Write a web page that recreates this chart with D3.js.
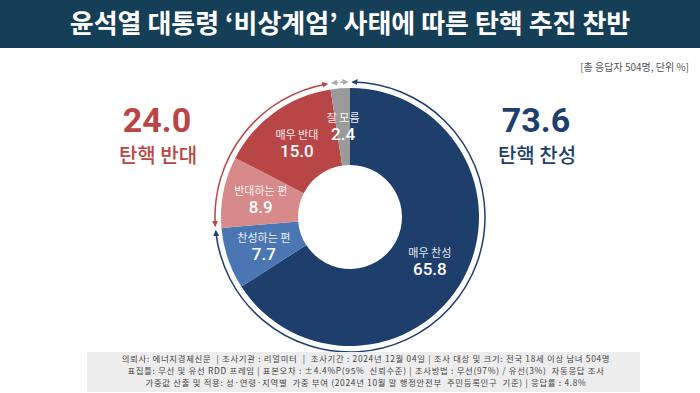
<!DOCTYPE html>
<html>
<head>
<meta charset="utf-8">
<script src="https://cdn.jsdelivr.net/npm/d3@7"></script>
<style>
  body { margin: 0; background: #fff; }
  text { font-family: "Noto Sans CJK KR", "Noto Sans", sans-serif; }
  .num { font-family: Roboto, "Noto Sans CJK KR", sans-serif; }
</style>
</head>
<body>
<div id="chart"></div>
<script>
// survey data
var categories = ["매우 찬성", "찬성하는 편", "반대하는 편", "매우 반대", "잘 모름"];
var values = [65.8, 7.7, 8.9, 15.0, 2.4];
var sliceColors = ["#1e3e6c", "#4a77b4", "#d68a8a", "#b84646", "#9b9b9b"];

// totals shown left / right
var summaryLabels = ["탄핵 반대", "탄핵 찬성"];
var summaryValues = [24.0, 73.6];

var titleText = "윤석열 대통령 ‘비상계엄’ 사태에 따른 탄핵 추진 찬반";
var noteText = "[총 응답자 504명, 단위 %]";
var footerLines = [
  "의뢰사: 에너지경제신문  | 조사기관 : 리얼미터  |  조사기간 : 2024년 12월 04일 | 조사 대상 및 크기: 전국 18세 이상 남녀 504명",
  "표집틀: 무선 및 유선 RDD 프레임 | 표본오차 : ±4.4%P(95%  신뢰수준) | 조사방법 : 무선(97%) / 유선(3%)  자동응답 조사",
  "가중값 산출 및 적용: 성·연령·지역별  가중 부여 (2024년 10월 말 행정안전부  주민등록인구  기준) | 응답률 : 4.8%"
];

var svgWidth = 700;
var svgHeight = 393;

var svg = d3.select("#chart")
  .append("svg")
  .attr("width", svgWidth)
  .attr("height", svgHeight);

// title band
svg.append("rect")
  .attr("width", svgWidth)
  .attr("height", 48)
  .attr("fill", "#153e57");

svg.append("text")
  .attr("x", svgWidth / 2)
  .attr("y", 33)
  .attr("text-anchor", "middle")
  .attr("fill", "#fff")
  .attr("font-size", "26px")
  .attr("font-weight", "bold")
  .text(titleText);

svg.append("text")
  .attr("x", 689)
  .attr("y", 71)
  .attr("text-anchor", "end")
  .attr("fill", "#555")
  .attr("font-size", "10px")
  .text(noteText);

// donut
var cx = 350, cy = 217;
var outerR = 129, innerR = 52, labelR = 91, ringR = 135;

var pie = d3.pie().sort(null).value(d => d);
var arcs = pie(values);

var arc = d3.arc().innerRadius(innerR).outerRadius(outerR);
var labelArc = d3.arc().innerRadius(labelR).outerRadius(labelR);

var donut = svg.append("g")
  .attr("transform", `translate(${cx}, ${cy})`);

donut.selectAll("path.slice")
  .data(arcs)
  .enter()
  .append("path")
  .attr("class", "slice")
  .attr("d", arc)
  .attr("fill", (d, i) => sliceColors[i]);

var labels = donut.selectAll("g.lbl")
  .data(arcs)
  .enter()
  .append("g")
  .attr("class", "lbl")
  .attr("transform", d => `translate(${labelArc.centroid(d)})`);

labels.append("text")
  .attr("y", -4)
  .attr("text-anchor", "middle")
  .attr("fill", "#fff")
  .attr("fill-opacity", 0.92)
  .attr("font-size", "11px")
  .text((d, i) => categories[i]);

labels.append("text")
  .attr("class", "num")
  .attr("y", 14)
  .attr("text-anchor", "middle")
  .attr("fill", "#fff")
  .attr("font-size", "17px")
  .attr("font-weight", 500)
  .text(d => d3.format(".1f")(d.data));

// arrow markers for the outer ring
var defs = svg.append("defs");
[["navy", "#1e3e6c"], ["red", "#b84646"], ["grey", "#a8a8a8"]].forEach(function(m) {
  defs.append("marker")
    .attr("id", "arrow-" + m[0])
    .attr("viewBox", "0 0 10 10")
    .attr("refX", 8)
    .attr("refY", 5)
    .attr("markerWidth", 6)
    .attr("markerHeight", 6)
    .attr("markerUnits", "userSpaceOnUse")
    .attr("orient", "auto-start-reverse")
    .append("path")
    .attr("d", "M0,0 L10,5 L0,10 z")
    .attr("fill", m[1]);
});

// ring spans: 찬성 (0-1), 반대 (2-3), 잘 모름 (4)
var gap = 0.02;
var ringSpans = [
  { a0: arcs[0].startAngle, a1: arcs[1].endAngle, color: "#1e3e6c", id: "navy", dash: null },
  { a0: arcs[2].startAngle, a1: arcs[3].endAngle, color: "#b84646", id: "red", dash: null },
  { a0: arcs[4].startAngle, a1: arcs[4].endAngle, color: "#a8a8a8", id: "grey", dash: "2,2" }
];

donut.selectAll("path.ring")
  .data(ringSpans)
  .enter()
  .append("path")
  .attr("class", "ring")
  .attr("d", function(d) {
    var p = d3.path();
    var s = d.a0 + gap - Math.PI / 2;
    var e = d.a1 - gap - Math.PI / 2;
    p.moveTo(ringR * Math.cos(s), ringR * Math.sin(s));
    p.arc(0, 0, ringR, s, e);
    return p.toString();
  })
  .attr("fill", "none")
  .attr("stroke", d => d.color)
  .attr("stroke-width", 1.5)
  .attr("stroke-dasharray", d => d.dash)
  .attr("marker-start", d => `url(#arrow-${d.id})`)
  .attr("marker-end", d => `url(#arrow-${d.id})`);

// summary numbers
var summaryX = [157, 536];
var summaryColors = ["#b84646", "#1e3e6c"];

summaryValues.forEach(function(v, i) {
  svg.append("text")
    .attr("class", "num")
    .attr("x", summaryX[i])
    .attr("y", 132)
    .attr("text-anchor", "middle")
    .attr("fill", summaryColors[i])
    .attr("font-size", "34px")
    .attr("font-weight", "bold")
    .text(d3.format(".1f")(v));

  svg.append("text")
    .attr("x", summaryX[i] + 1)
    .attr("y", 163)
    .attr("text-anchor", "middle")
    .attr("fill", summaryColors[i])
    .attr("font-size", "20px")
    .attr("font-weight", 500)
    .text(summaryLabels[i]);
});

// footer box
svg.append("rect")
  .attr("x", 87)
  .attr("y", 352)
  .attr("width", 553)
  .attr("height", 40)
  .attr("fill", "#ededed");

// footer lines, letter spacing keeps the width of the original
svg.selectAll("text.foot")
  .data(footerLines)
  .enter()
  .append("text")
  .attr("class", "foot")
  .attr("x", 366)
  .attr("y", (d, i) => 361.5 + i * 12.4)
  .attr("text-anchor", "middle")
  .attr("fill", "#444")
  .attr("font-size", "8.4px")
  .attr("letter-spacing", "0.7px")
  .style("white-space", "pre")
  .text(d => d);
</script>
</body>
</html>
